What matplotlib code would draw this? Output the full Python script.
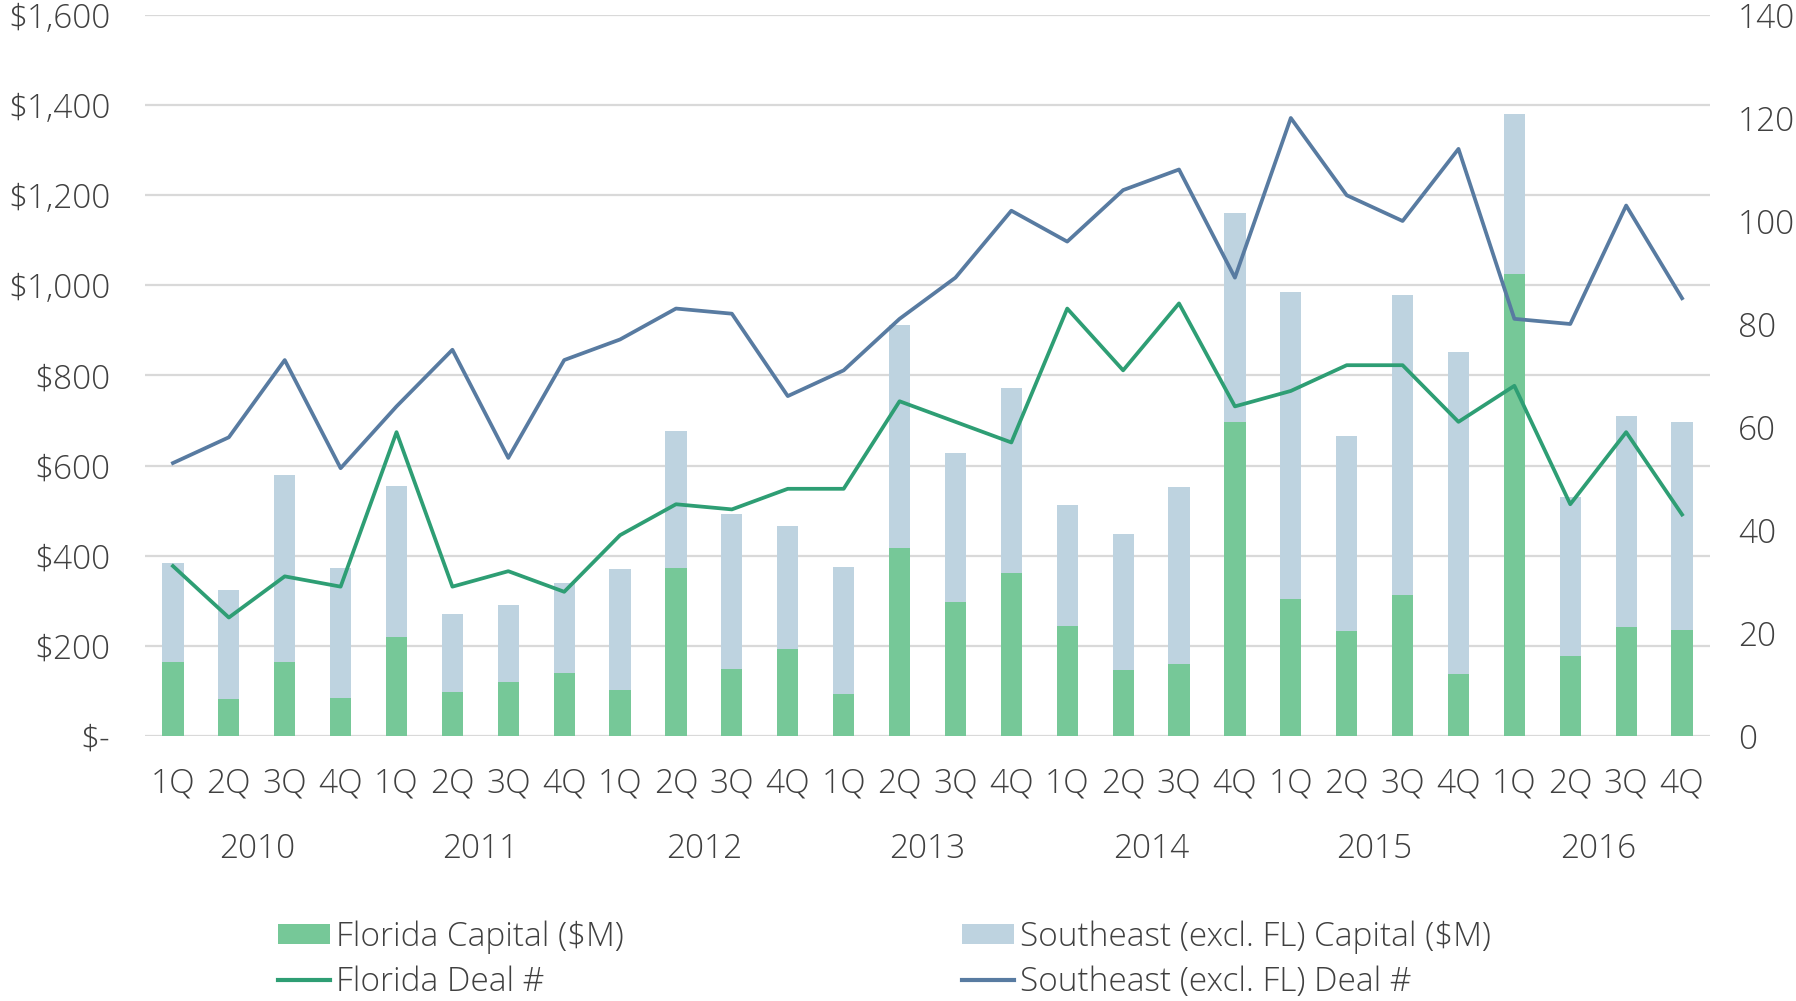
import matplotlib
matplotlib.use("Agg")
import matplotlib.pyplot as plt
from matplotlib.patches import Patch
from matplotlib.lines import Line2D
from matplotlib.transforms import blended_transform_factory
import numpy as np

plt.rcParams['font.family'] = ['Open Sans', 'DejaVu Sans']
plt.rcParams['font.weight'] = 'light'

quarters = ["1Q", "2Q", "3Q", "4Q"] * 7
years = ["2010", "2011", "2012", "2013", "2014", "2015", "2016"]

fl_capital = [164, 83, 164, 85, 220, 98, 120, 140,
              103, 373, 149, 193, 93, 417, 298, 362,
              245, 147, 160, 697, 305, 232, 313, 138,
              1025, 178, 241, 236]
se_total = [385, 323, 579, 372, 554, 271, 290, 339,
            370, 676, 492, 466, 374, 913, 627, 772,
            513, 448, 552, 1160, 985, 666, 978, 852,
            1380, 531, 711, 697]
se_capital = [t - f for t, f in zip(se_total, fl_capital)]

fl_deals = [33, 23, 31, 29, 59, 29, 32, 28,
            39, 45, 44, 48, 48, 65, 61, 57,
            83, 71, 84, 64, 67, 72, 72, 61,
            68, 45, 59, 43]
se_deals = [53, 58, 73, 52, 64, 75, 54, 73,
            77, 83, 82, 66, 71, 81, 89, 102,
            96, 106, 110, 89, 120, 105, 100, 114,
            81, 80, 103, 85]

left_ticks = [0, 200, 400, 600, 800, 1000, 1200, 1400, 1600]
left_labels = ["$-", "$200", "$400", "$600", "$800", "$1,000", "$1,200", "$1,400", "$1,600"]
right_ticks = [0, 20, 40, 60, 80, 100, 120, 140]

C_FL_BAR = "#76C898"
C_SE_BAR = "#BED3E0"
C_FL_LINE = "#2E9E74"
C_SE_LINE = "#587BA1"
C_TEXT = "#404040"
C_GRID = "#D9D9D9"
FS = 24

W, H = 1796, 1001
fig = plt.figure(figsize=(W / 100, H / 100), dpi=100)
L, R, B, T = 145, 1710, 736, 15
ax = fig.add_axes([L / W, 1 - B / H, (R - L) / W, (B - T) / H])

x = np.arange(len(quarters))
bw = 0.38
ax.bar(x, fl_capital, width=bw, color=C_FL_BAR, zorder=2)
ax.bar(x, se_capital, bottom=fl_capital, width=bw, color=C_SE_BAR, zorder=2)

ax.set_ylim(0, 1600)
ax.set_xlim(-0.5, len(quarters) - 0.5)
ax.set_yticks(left_ticks)
ax.set_yticklabels(left_labels)
ax.yaxis.grid(True, color=C_GRID, linewidth=1.6, zorder=0)
ax.set_axisbelow(True)
ax.set_xticks(x)
ax.set_xticklabels(quarters)
ax.tick_params(axis='both', length=0, labelsize=FS, labelcolor=C_TEXT)
ax.tick_params(axis='y', pad=25)
ax.tick_params(axis='x', pad=22)
for s in ax.spines.values():
    s.set_visible(False)

tr = blended_transform_factory(ax.transData, fig.transFigure)
for i, yr in enumerate(years):
    ax.text(4 * i + 1.5, 1 - 849 / H, yr, transform=tr, ha='center', va='center',
            fontsize=FS, color=C_TEXT)

ax2 = ax.twinx()
ax2.plot(x, fl_deals, color=C_FL_LINE, linewidth=2.7, zorder=3)
ax2.plot(x, se_deals, color=C_SE_LINE, linewidth=2.7, zorder=3)
ax2.set_ylim(0, 140)
ax2.set_yticks(right_ticks)
ax2.tick_params(axis='y', length=0, labelsize=FS, labelcolor=C_TEXT, pad=20)
for s in ax2.spines.values():
    s.set_visible(False)

h_fl_cap = Patch(facecolor=C_FL_BAR, edgecolor='none')
h_se_cap = Patch(facecolor=C_SE_BAR, edgecolor='none')
h_fl_deal = Line2D([], [], color=C_FL_LINE, linewidth=3)
h_se_deal = Line2D([], [], color=C_SE_LINE, linewidth=3)

leg_kw = dict(frameon=False, fontsize=FS, labelcolor=C_TEXT, handlelength=1.55,
              handleheight=0.55, handletextpad=0.2, labelspacing=0.36,
              borderpad=0, borderaxespad=0, loc='upper left')
leg1 = fig.legend([h_fl_cap, h_fl_deal], ["Florida Capital ($M)", "Florida Deal #"],
                  bbox_to_anchor=(278 / W, 1 - 920 / H), **leg_kw)
leg2 = fig.legend([h_se_cap, h_se_deal],
                  ["Southeast (excl. FL) Capital ($M)", "Southeast (excl. FL) Deal #"],
                  bbox_to_anchor=(962 / W, 1 - 920 / H), **leg_kw)

fig.savefig("out.png", dpi=100, facecolor='white')
